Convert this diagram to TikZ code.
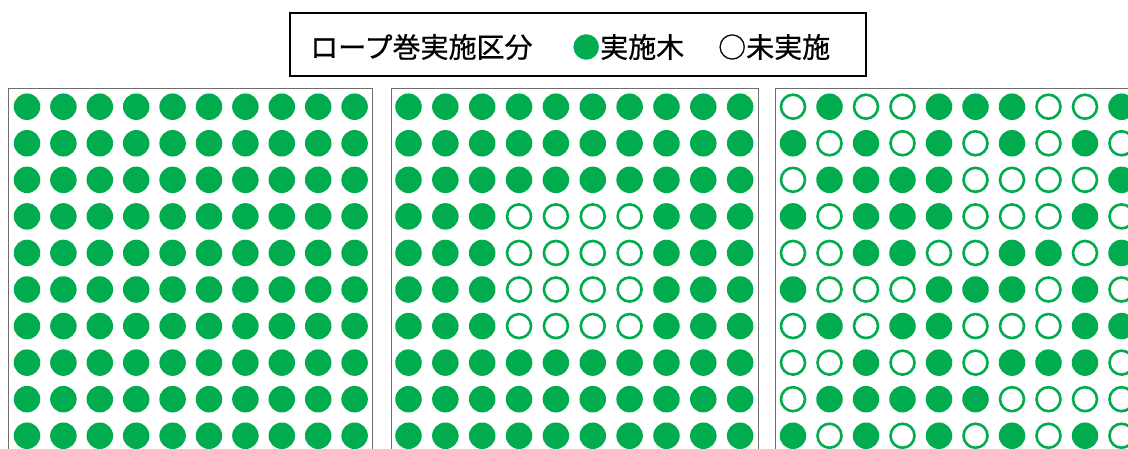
\documentclass[tikz,border=0pt]{standalone}
\usepackage{fontspec}
\newfontfamily\jp[FakeBold=0.6]{Noto Sans CJK JP}
\definecolor{tg}{RGB}{0,172,78}
\definecolor{frame}{RGB}{110,110,110}
\tikzset{
  panel/.style={draw=frame, line width=1.4pt, anchor=north west, inner sep=0pt},
  done/.style={circle, fill=tg, minimum size=26.5pt, inner sep=0pt},
  todo/.style={circle, draw=tg, line width=2.6pt, minimum size=24pt, inner sep=0pt},
  legendbox/.style={draw=black, line width=1.8pt, anchor=north west, inner sep=0pt, minimum width=576pt, minimum height=63pt},
  legendtext/.style={anchor=west, inner sep=0pt, font=\jp\fontsize{28}{32}\selectfont}
}
\begin{document}
\begin{tikzpicture}[x=1pt,y=-1pt]
\useasboundingbox (0,0) rectangle (1128,448);
\clip (0,0) rectangle (1128,448);
\fill[white] (0,0) rectangle (1128,448);
% legend
\node[legendbox] (legend) at (289,12) {};
\node[legendtext] (title) at (310,47) {ロープ巻実施区分};
\node[legendtext] (donekey) at (572,47) {{\color{tg}●}実施木};
\node[legendtext] (todokey) at (718,47) {○未実施};
% panels
\node[panel, minimum width=364pt, minimum height=380pt] (panelA) at (8,87.5) {};
\node[panel, minimum width=367pt, minimum height=380pt] (panelB) at (391,87.5) {};
\node[panel, minimum width=367pt, minimum height=380pt] (panelC) at (775,87.5) {};
% panel A: all done
\foreach \r in {1,...,10}{
  \foreach \c in {1,...,10}{
    \node[done] (a-\r-\c) at ({27+(\c-1)*36.4},{106.7+(\r-1)*36.56}) {};
  }
}
% panel B: centre block not done
\foreach \r in {1,...,10}{
  \foreach \c in {1,...,10}{
    \pgfmathtruncatemacro{\inside}{and(and(\r>3,\r<8),and(\c>3,\c<8))}
    \ifnum\inside=1
      \node[todo] (b-\r-\c) at ({408.5+(\c-1)*36.85},{106.7+(\r-1)*36.56}) {};
    \else
      \node[done] (b-\r-\c) at ({408.5+(\c-1)*36.85},{106.7+(\r-1)*36.56}) {};
    \fi
  }
}
% panel C: scattered
\foreach \r/\pat in {
  1/{0,1,0,0,1,1,1,0,0,1},
  2/{1,0,1,0,1,0,1,0,1,0},
  3/{0,1,1,1,1,0,0,0,0,1},
  4/{1,0,1,1,1,0,0,0,1,0},
  5/{0,0,1,1,0,0,1,1,0,1},
  6/{1,0,0,0,1,1,1,0,1,0},
  7/{0,1,0,1,1,0,0,0,1,1},
  8/{0,0,1,0,1,0,1,1,1,0},
  9/{0,1,1,1,1,1,0,0,0,0},
  10/{1,0,1,0,1,0,1,0,1,0}}{
  \foreach \v [count=\c] in \pat {
    \ifnum\v=1
      \node[done] (c-\r-\c) at ({793+(\c-1)*36.5},{106.7+(\r-1)*36.56}) {};
    \else
      \node[todo] (c-\r-\c) at ({793+(\c-1)*36.5},{106.7+(\r-1)*36.56}) {};
    \fi
  }
}
\end{tikzpicture}
\end{document}
